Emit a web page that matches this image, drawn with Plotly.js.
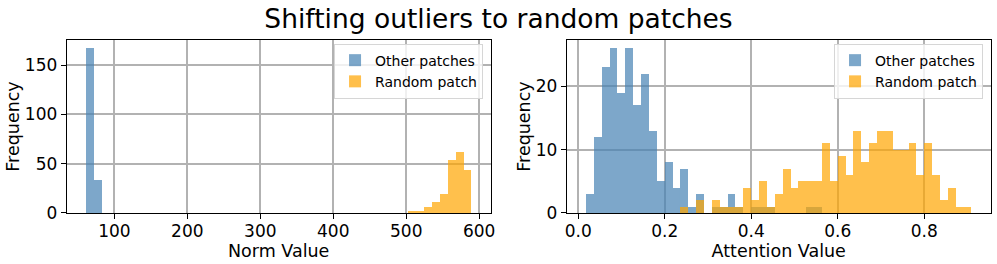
<!DOCTYPE html>
<html><head><meta charset="utf-8">
<script src="https://cdn.plot.ly/plotly-3.0.1.min.js"></script>
<style>html,body{margin:0;padding:0;background:#fff}#chart{width:997px;height:264px}</style>
</head><body><div id="chart"></div><script>
// ---- data (histogram counts per bin) ----
const chartTitle = 'Shifting outliers to random patches';
const seriesNames = ['Other patches', 'Random patch'];

const normBinStart = 61.1;
const normBinWidth = 10.78;
const normOther = [167,33,0,0,0,0,0,0,0,0, 0,0,0,0,0,0,0,0,0,0, 0,0,0,0,0,0,0,0,0,0, 0,0,0,0,0,0,0,0,0,0, 0,0,0,0,0,0,0,0,0];
const normRandom = [0,0,0,0,0,0,0,0,0,0, 0,0,0,0,0,0,0,0,0,0, 0,0,0,0,0,0,0,0,0,0, 0,0,0,0,0,0,0,0,0,0, 0,2,2,6,11,19,54,62,44];
const normTicks = [100,200,300,400,500,600];
const normYTicks = [0,50,100,150];

const attnBinStart = 0.0178;
const attnBinWidth = 0.01819;
const attnOther = [3,12,23,26,19,26,17,22,13,5, 8,4,7,1,3,0,1,1,3,1, 0,1,1,1,0,0,0,0,1,1, 0,0,0,0,0,0,0,0,0,0, 0,0,0,0,0,0,0,0,0];
const attnRandom = [0,0,0,0,0,0,0,0,0,0, 0,0,1,0,2,0,2,1,1,1, 4,2,5,1,3,7,4,5,5,5, 11,5,9,6,13,8,11,13,13,10, 10,11,6,11,6,2,4,1,1];
const attnTicks = [0.0,0.2,0.4,0.6,0.8];
const attnTickText = ['0.0','0.2','0.4','0.6','0.8'];
const attnYTicks = [0,10,20];

// ---- styling ----
const blue = 'steelblue', orange = 'orange';
const FONT = 'DejaVu Sans, sans-serif';
function centers(start, w, n){ const c=[]; for(let i=0;i<n;i++) c.push(start+(i+0.5)*w); return c; }
function bar(counts, start, w, name, color, xa, ya, leg){
  return {type:'bar', x:centers(start,w,counts.length), y:counts, width:w, name:name,
    marker:{color:color, line:{width:0}}, opacity:0.7, xaxis:xa, yaxis:ya, legend:leg, hoverinfo:'skip'};
}
const traces = [
  bar(normOther, normBinStart, normBinWidth, seriesNames[0], blue, 'x','y','legend'),
  bar(normRandom, normBinStart, normBinWidth, seriesNames[1], orange, 'x','y','legend'),
  bar(attnOther, attnBinStart, attnBinWidth, seriesNames[0], blue, 'x2','y2','legend2'),
  bar(attnRandom, attnBinStart, attnBinWidth, seriesNames[1], orange, 'x2','y2','legend2')
];
const ax = {showgrid:true, gridcolor:'#b2b2b2', gridwidth:2, zeroline:false, showline:true, mirror:true,
  linecolor:'#000', linewidth:1, ticks:'outside', ticklen:5, tickwidth:1, tickcolor:'#000',
  tickfont:{size:17, color:'#000', family:FONT}, fixedrange:true};
const yDom = [0.1932, 0.8485];
const legendBase = {xanchor:'right', yanchor:'top', y:0.835, bgcolor:'rgba(255,255,255,0.8)',
  bordercolor:'#d6d6d6', borderwidth:1, font:{size:14, color:'#000', family:FONT}, itemwidth:30};
const layout = {
  width:997, height:264, margin:{l:0,r:0,t:0,b:0}, paper_bgcolor:'#fff', plot_bgcolor:'#fff',
  font:{family:FONT, color:'#000'}, barmode:'overlay', bargap:0,
  title:{text:chartTitle, font:{size:26.5, color:'#000', family:FONT}, x:0.5, xanchor:'center', xref:'paper', yref:'container', y:0.93, yanchor:'middle'},
  xaxis:Object.assign({}, ax, {domain:[0.0669,0.4922], range:[34.7,615.8], tickvals:normTicks, anchor:'y', ticklabelstandoff:-2,
    title:{text:'Norm Value', font:{size:17.5}, standoff:0}}),
  yaxis:Object.assign({}, ax, {domain:yDom, range:[0,175.35], tickvals:normYTicks, anchor:'x',
    title:{text:'Frequency', font:{size:17.5}, standoff:0}}),
  xaxis2:Object.assign({}, ax, {domain:[0.5684,0.9937], range:[-0.0268,0.9536], tickvals:attnTicks, ticktext:attnTickText, anchor:'y2', ticklabelstandoff:-2,
    title:{text:'Attention Value', font:{size:17.5}, standoff:0}}),
  yaxis2:Object.assign({}, ax, {domain:yDom, range:[0,27.3], tickvals:attnYTicks, anchor:'x2',
    title:{text:'Frequency', font:{size:17.5}, standoff:0}}),
  legend:Object.assign({}, legendBase, {x:0.4845}),
  legend2:Object.assign({}, legendBase, {x:0.986}),
  showlegend:true
};
Plotly.newPlot('chart', traces, layout, {displayModeBar:false, staticPlot:true});
</script></body></html>
